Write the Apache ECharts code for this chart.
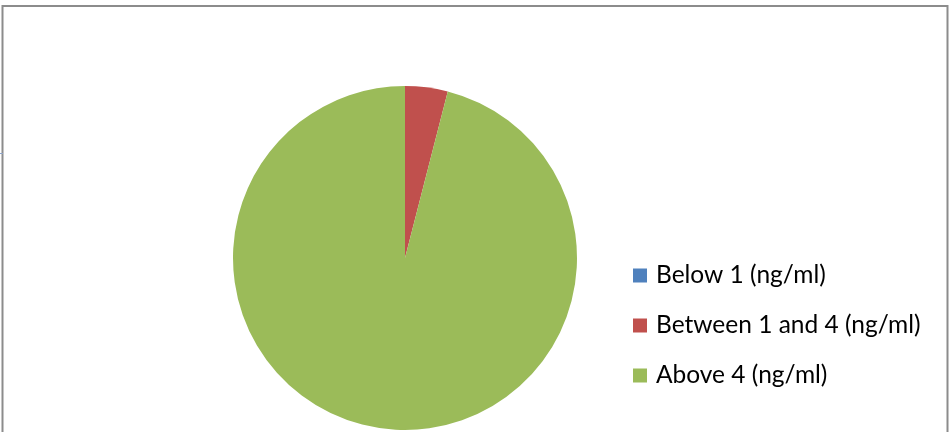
<!DOCTYPE html>
<html>
<head>
<meta charset="utf-8">
<script src="https://cdn.jsdelivr.net/npm/echarts@6/dist/echarts.min.js"></script>
<style>html,body{margin:0;padding:0;background:#fff;}#c{width:950px;height:432px;}</style>
</head>
<body>
<div id="c"></div>
<script>
const categories = ['Below 1 (ng/ml)', 'Between 1 and 4 (ng/ml)', 'Above 4 (ng/ml)'];
const values = [0, 4, 96];
const colors = ['#4F81BD', '#C0504D', '#9BBB59'];

const chart = echarts.init(document.getElementById('c'), null, {renderer: 'canvas'});
chart.setOption({
  animation: false,
  backgroundColor: '#fff',
  color: colors,
  graphic: [
    {type: 'rect', shape: {x: 2.5, y: 6, width: 945, height: 440}, style: {fill: 'none', stroke: '#8c8c8c', lineWidth: 2}, silent: true},
    {type: 'line', shape: {x1: 0, y1: 153.5, x2: 3, y2: 153.5}, style: {stroke: '#8ea4c8', lineWidth: 1}, silent: true}
  ],
  legend: {
    orient: 'vertical',
    left: 633,
    top: 263,
    padding: 0,
    icon: 'rect',
    itemWidth: 14,
    itemHeight: 14,
    itemGap: 25,
    selectedMode: false,
    textStyle: {fontFamily: 'Lato', fontSize: 24.5, color: '#000', lineHeight: 24, padding: [0, 0, 0, 4]},
    data: categories
  },
  series: [{
    type: 'pie',
    center: [405, 258],
    radius: 172,
    startAngle: 90,
    clockwise: true,
    label: {show: false},
    labelLine: {show: false},
    emphasis: {disabled: true},
    itemStyle: {borderWidth: 0},
    data: categories.map((n, i) => ({name: n, value: values[i]}))
  }]
});
</script>
</body>
</html>
